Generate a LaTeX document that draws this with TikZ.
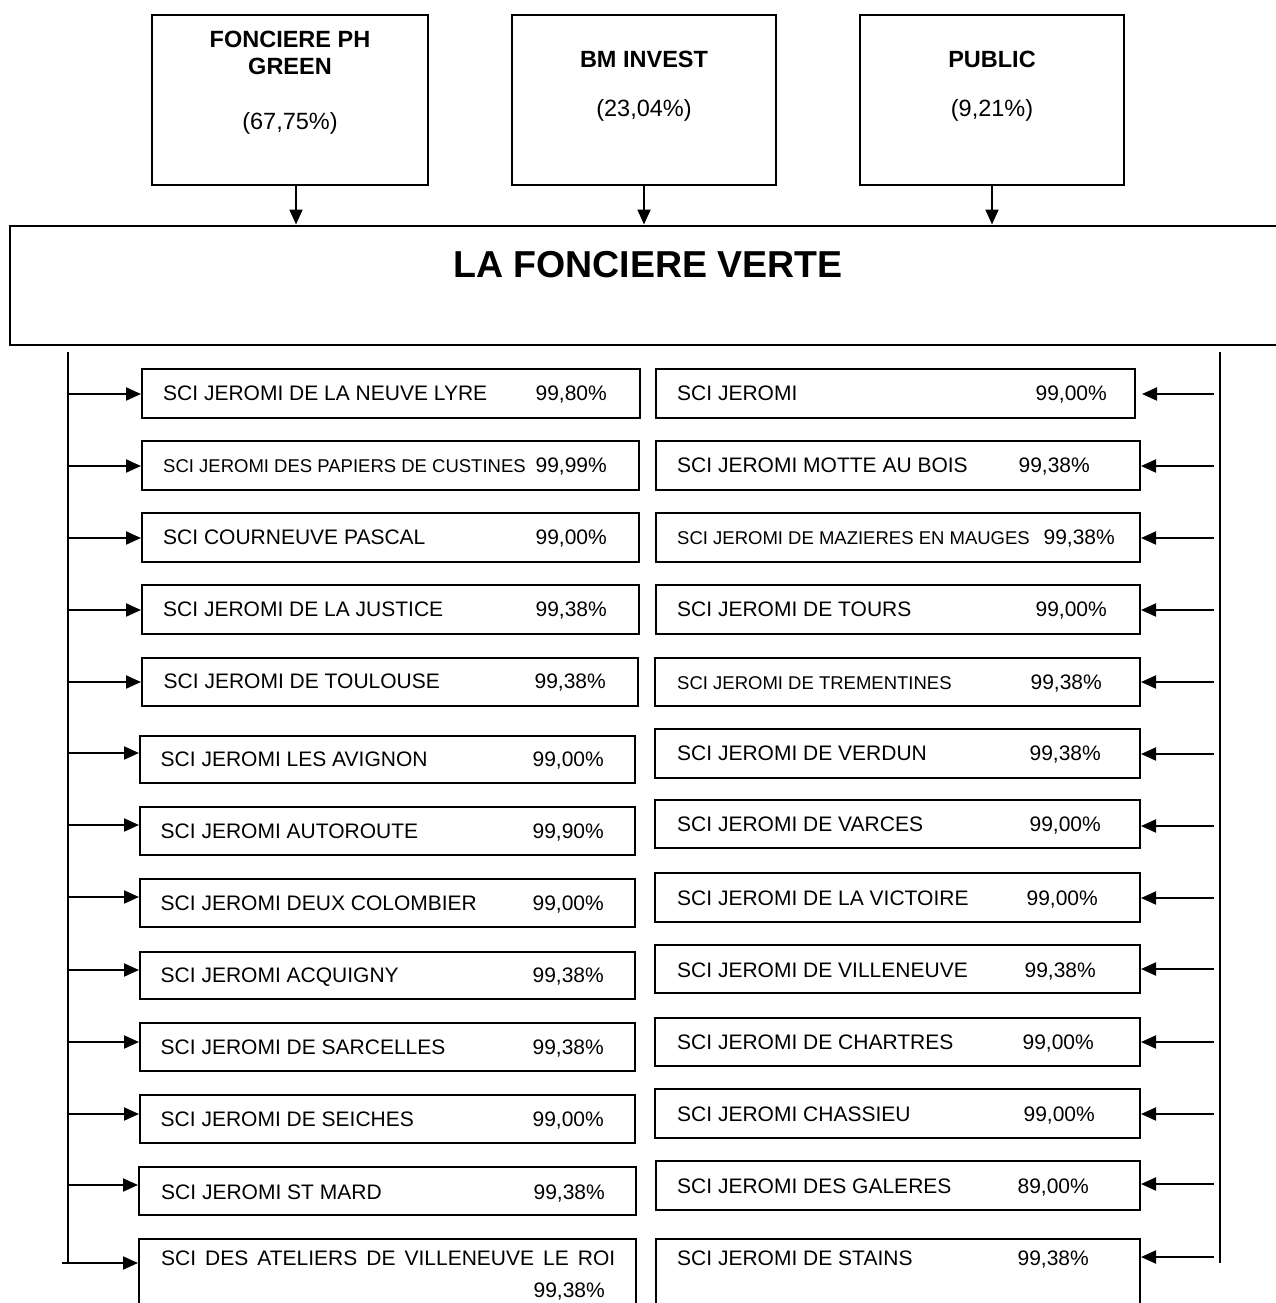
\documentclass[tikz,border=0pt]{standalone}
\usepackage{fontspec}
\setmainfont{Liberation Sans}
\usetikzlibrary{arrows.meta,fit,calc}
\tikzset{
  box/.style={draw, line width=2pt, inner sep=0pt, rectangle},
  arr/.style={line width=2pt, -{Triangle[length=15pt,width=13pt]}},
  ln/.style={line width=2pt},
  nm/.style={inner sep=0pt, anchor=base west, font=\fontsize{21}{25}\selectfont},
  nms/.style={nm, font=\fontsize{18.5}{22}\selectfont},
  pc/.style={inner sep=0pt, anchor=base east, font=\fontsize{21}{25}\selectfont},
  ttl/.style={inner sep=0pt, anchor=base, font=\fontsize{23.5}{28}\selectfont\bfseries},
  ttp/.style={inner sep=0pt, anchor=base, font=\fontsize{23.5}{28}\selectfont},
  big/.style={inner sep=0pt, anchor=base, font=\fontsize{37.5}{44}\selectfont\bfseries},
}
% id x1 y1 x2 y2 baseline pct-right pct
\newcommand\sciB[8]{%
  \node[box, fit={(#2,#3) (#4,#5)}] (#1) {};
  \node[pc] (#1p) at (#7,#6) {#8};}
\begin{document}
\begin{tikzpicture}[x=1pt,y=-1pt]
\useasboundingbox (0,0) rectangle (1276,1303);

% shareholders
\node[box, fit={(152,15) (428,185)}] (T1) {};
\node[ttl] (T1a) at (290,48) {FONCIERE PH};
\node[ttl] (T1b) at (290,75) {GREEN};
\node[ttp] (T1c) at (290,129) {(67,75\%)};
\node[box, fit={(512,15) (776,185)}] (T2) {};
\node[ttl] (T2a) at (644,68) {BM INVEST};
\node[ttp] (T2c) at (644,117) {(23,04\%)};
\node[box, fit={(860,15) (1124,185)}] (T3) {};
\node[ttl] (T3a) at (992,68) {PUBLIC};
\node[ttp] (T3c) at (992,117) {(9,21\%)};

% main company
\node[box, fit={(10,225.5) (1290,345)}] (M) {};
\node[big] (Mt) at (648,277) {LA FONCIERE VERTE};

\draw[arr] ([xshift=6pt]T1.south) -- ([xshift=6pt]T1.south |- M.north);
\draw[arr] (T2.south) -- (T2.south |- M.north);
\draw[arr] (T3.south) -- (T3.south |- M.north);

% left column
\sciB{L1}{142}{369}{640}{418}{400}{607}{99,80\%}
\node[nm] (L1n) at (163,400) {SCI JEROMI DE LA NEUVE LYRE};
\sciB{L2}{142}{441}{639}{490}{472.5}{607}{99,99\%}
\node[nms] (L2n) at (163,472.5) {SCI JEROMI DES PAPIERS DE CUSTINES};
\sciB{L3}{142}{513}{639}{562}{544.5}{607}{99,00\%}
\node[nm] (L3n) at (163,544.5) {SCI COURNEUVE PASCAL};
\sciB{L4}{142}{585}{639}{634}{616.5}{607}{99,38\%}
\node[nm] (L4n) at (163,616.5) {SCI JEROMI DE LA JUSTICE};
\sciB{L5}{142}{658}{638}{706}{688.5}{606}{99,38\%}
\node[nm] (L5n) at (163.5,688.5) {SCI JEROMI DE TOULOUSE};
\sciB{L6}{140}{736}{635}{783}{766}{604}{99,00\%}
\node[nm] (L6n) at (160.5,766) {SCI JEROMI LES AVIGNON};
\sciB{L7}{140}{807}{635}{855}{838}{604}{99,90\%}
\node[nm] (L7n) at (160.5,838) {SCI JEROMI AUTOROUTE};
\sciB{L8}{140}{879}{635}{927}{910}{604}{99,00\%}
\node[nm] (L8n) at (160.5,910) {SCI JEROMI DEUX COLOMBIER};
\sciB{L9}{140}{952}{635}{999}{982}{604}{99,38\%}
\node[nm] (L9n) at (160.5,982) {SCI JEROMI ACQUIGNY};
\sciB{L10}{140}{1023}{635}{1071}{1054}{604}{99,38\%}
\node[nm] (L10n) at (160.5,1054) {SCI JEROMI DE SARCELLES};
\sciB{L11}{140}{1095}{635}{1143}{1126}{604}{99,00\%}
\node[nm] (L11n) at (160.5,1126) {SCI JEROMI DE SEICHES};
\sciB{L12}{139}{1167}{636}{1215}{1199}{605}{99,38\%}
\node[nm] (L12n) at (161,1199) {SCI JEROMI ST MARD};
\sciB{L13}{139}{1239}{636}{1340}{1297}{605}{99,38\%}
\node[nm] (L13n) at (161,1265) {\makebox[454pt][s]{SCI DES ATELIERS DE VILLENEUVE LE ROI}};

% right column
\sciB{R1}{656}{369}{1135}{418}{400}{1107}{99,00\%}
\node[nm] (R1n) at (677,400) {SCI JEROMI};
\sciB{R2}{656}{441}{1140}{490}{472}{1090}{99,38\%}
\node[nm] (R2n) at (677,472) {SCI JEROMI MOTTE AU BOIS};
\sciB{R3}{656}{513}{1140}{562}{544}{1115}{99,38\%}
\node[nms] (R3n) at (677,544) {SCI JEROMI DE MAZIERES EN MAUGES};
\sciB{R4}{656}{585}{1140}{634}{616}{1107}{99,00\%}
\node[nm] (R4n) at (677,616) {SCI JEROMI DE TOURS};
\sciB{R5}{655}{658}{1140}{706}{689}{1102}{99,38\%}
\node[nms] (R5n) at (677,689) {SCI JEROMI DE TREMENTINES};
\sciB{R6}{655}{729}{1140}{778}{760.5}{1101}{99,38\%}
\node[nm] (R6n) at (677,760.5) {SCI JEROMI DE VERDUN};
\sciB{R7}{655}{800}{1140}{848}{831}{1101}{99,00\%}
\node[nm] (R7n) at (677,831) {SCI JEROMI DE VARCES};
\sciB{R8}{655}{873}{1140}{922}{905}{1098}{99,00\%}
\node[nm] (R8n) at (677,905) {SCI JEROMI DE LA VICTOIRE};
\sciB{R9}{655}{945}{1140}{993}{977.5}{1096}{99,38\%}
\node[nm] (R9n) at (677,977.5) {SCI JEROMI DE VILLENEUVE};
\sciB{R10}{655}{1018}{1140}{1066}{1049}{1094}{99,00\%}
\node[nm] (R10n) at (677,1049) {SCI JEROMI DE CHARTRES};
\sciB{R11}{655}{1089}{1140}{1138}{1121}{1095}{99,00\%}
\node[nm] (R11n) at (677,1121) {SCI JEROMI CHASSIEU};
\sciB{R12}{656}{1161}{1140}{1210}{1193}{1089}{89,00\%}
\node[nm] (R12n) at (677,1193) {SCI JEROMI DES GALERES};
\sciB{R13}{656}{1239}{1140}{1340}{1265}{1089}{99,38\%}
\node[nm] (R13n) at (677,1265) {SCI JEROMI DE STAINS};

% trunks
\coordinate (LT) at (67.5,352);
\coordinate (LB) at (67.5,1263);
\draw[ln] (LT) -- (LB);
\coordinate (RT) at (1220,352);
\coordinate (RB) at (1220,1263);
\draw[ln] (RT) -- (RB);

% left arrows
\foreach \i/\y in {1/394,2/466,3/538,4/610,5/682,6/753,7/825,8/897,9/970,10/1042,11/1114,12/1185}{
  \coordinate (la\i) at (67.5,\y);
  \draw[arr] (la\i) -- (la\i -| L\i.west);
}
\coordinate (la13) at (62,1263);
\draw[arr] (la13) -- (la13 -| L13.west);

% right arrows
\coordinate (ra1) at (1214,394);
\draw[arr] (ra1) -- ($(ra1 -| R1.east)+(6,0)$);
\foreach \i/\y in {2/466,3/538,4/610,5/682,6/754,7/826,8/898,9/969,10/1042,11/1114,12/1184,13/1257}{
  \coordinate (ra\i) at (1214,\y);
  \draw[arr] (ra\i) -- (ra\i -| R\i.east);
}
\end{tikzpicture}
\end{document}
